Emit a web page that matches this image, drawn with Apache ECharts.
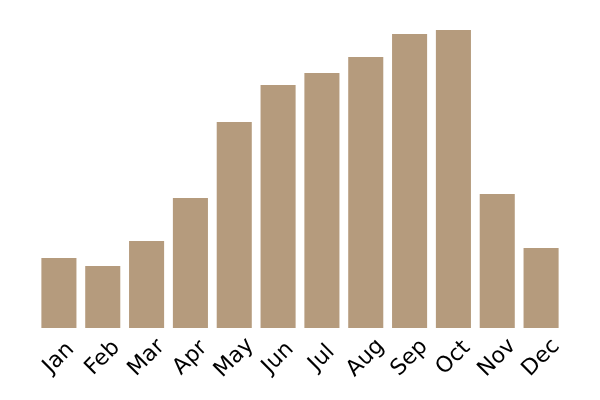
<!DOCTYPE html>
<html><head><meta charset="utf-8">
<script src="https://cdn.jsdelivr.net/npm/echarts@6/dist/echarts.min.js"></script>
<style>html,body{margin:0;padding:0;background:#fff}#c{width:600px;height:400px}</style>
</head><body><div id="c"></div>
<script>
const months = ['Jan','Feb','Mar','Apr','May','Jun','Jul','Aug','Sep','Oct','Nov','Dec'];
const values = [70, 62, 87, 130, 206, 243, 255, 271, 294, 298, 134, 80];
const chart = echarts.init(document.getElementById('c'), null, {renderer:'canvas'});
chart.setOption({
  animation:false,
  grid:{left:37,right:37,top:30,bottom:72},
  xAxis:{type:'category',data:months,
    axisLine:{show:false},axisTick:{show:false},
    axisLabel:{rotate:45,fontSize:22,color:'#000',fontFamily:'DejaVu Sans',margin:30,interval:0,align:'center',verticalAlign:'middle'}},
  yAxis:{type:'value',min:0,max:298,show:false,splitLine:{show:false}},
  series:[{type:'bar',data:values,barCategoryGap:'20%',itemStyle:{color:'#b59b7d'}}]
});
</script></body></html>
